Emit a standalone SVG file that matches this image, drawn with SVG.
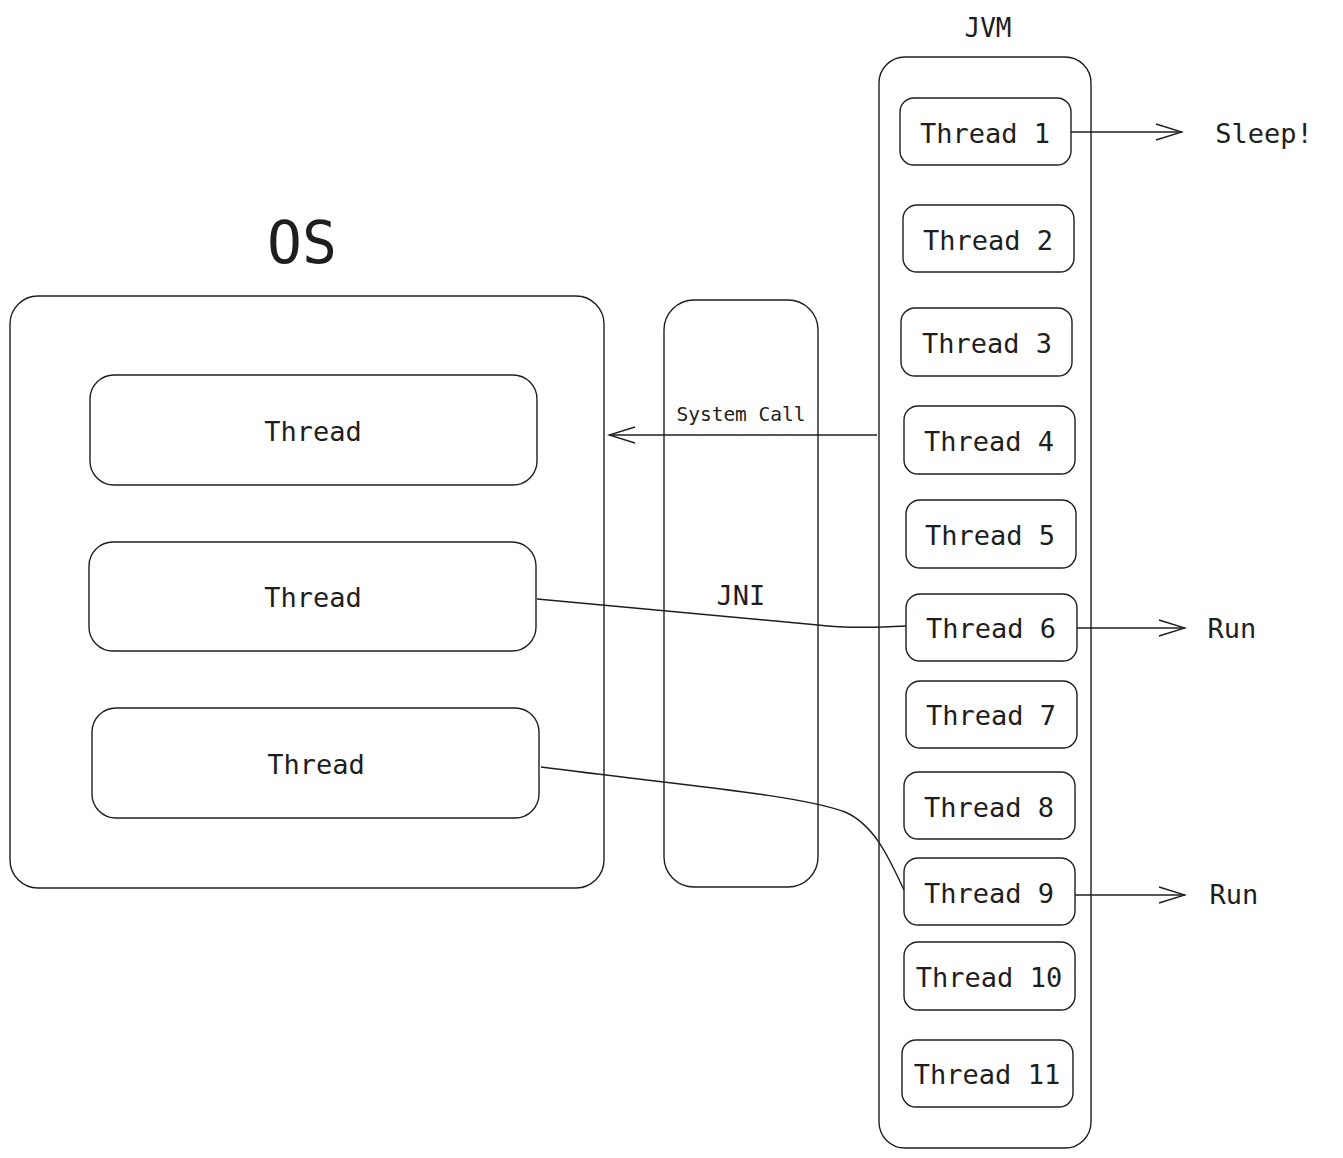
<svg xmlns="http://www.w3.org/2000/svg" width="1343" height="1158" viewBox="0 0 1343 1158">
<style>
.box{fill:none;stroke:#1e1e1e;stroke-width:1.4}
.t{font-family:"DejaVu Sans Mono","Liberation Mono",monospace;fill:#1e1e1e;text-anchor:middle;dominant-baseline:central}
.m{font-size:27px}
.c{fill:none;stroke:#1e1e1e;stroke-width:1.4}
</style>
<defs>
<marker id="ah" viewBox="0 0 30 20" refX="28" refY="10" markerWidth="30" markerHeight="20" markerUnits="userSpaceOnUse" orient="auto">
<path d="M2,2 L28,10 L2,18" fill="none" stroke="#1e1e1e" stroke-width="1.4"/>
</marker>
</defs>
<rect width="1343" height="1158" fill="#ffffff"/>
<text class="t" x="302" y="243" style="font-size:58px">OS</text>
<text class="t" x="988" y="28" style="font-size:26px">JVM</text>
<g id="os"><rect class="box" x="10" y="296" width="594" height="592" rx="28"/></g>
<g id="os-thread-1"><rect class="box" x="90" y="375" width="447" height="110" rx="24"/><text class="t m" x="313" y="431">Thread</text></g>
<g id="os-thread-2"><rect class="box" x="89" y="542" width="447" height="109" rx="24"/><text class="t m" x="313" y="597">Thread</text></g>
<g id="os-thread-3"><rect class="box" x="92" y="708" width="447" height="110" rx="24"/><text class="t m" x="316" y="764">Thread</text></g>
<g id="jni"><rect class="box" x="664" y="300" width="154" height="587" rx="30"/><text class="t m" x="741" y="595">JNI</text></g>
<g id="jvm"><rect class="box" x="879" y="57" width="212" height="1091" rx="26"/></g>
<g id="jt1"><rect class="box" x="900" y="98" width="171" height="67" rx="14"/><text class="t m" x="985" y="133">Thread 1</text></g>
<g id="jt2"><rect class="box" x="903" y="205" width="171" height="67" rx="14"/><text class="t m" x="988" y="240">Thread 2</text></g>
<g id="jt3"><rect class="box" x="901" y="308" width="171" height="68" rx="14"/><text class="t m" x="987" y="343">Thread 3</text></g>
<g id="jt4"><rect class="box" x="904" y="406" width="171" height="68" rx="14"/><text class="t m" x="989" y="441">Thread 4</text></g>
<g id="jt5"><rect class="box" x="906" y="500" width="170" height="68" rx="14"/><text class="t m" x="990" y="535">Thread 5</text></g>
<g id="jt6"><rect class="box" x="906" y="594" width="171" height="67" rx="14"/><text class="t m" x="991" y="628">Thread 6</text></g>
<g id="jt7"><rect class="box" x="906" y="681" width="171" height="67" rx="14"/><text class="t m" x="991" y="715">Thread 7</text></g>
<g id="jt8"><rect class="box" x="904" y="772" width="171" height="67" rx="14"/><text class="t m" x="989" y="807">Thread 8</text></g>
<g id="jt9"><rect class="box" x="904" y="858" width="171" height="67" rx="14"/><text class="t m" x="989" y="893">Thread 9</text></g>
<g id="jt10"><rect class="box" x="904" y="942" width="171" height="68" rx="14"/><text class="t m" x="989" y="977">Thread 10</text></g>
<g id="jt11"><rect class="box" x="902" y="1040" width="171" height="67" rx="14"/><text class="t m" x="987" y="1074">Thread 11</text></g>
<g id="connectors">
<path class="c" d="M1071,132 L1182,132" marker-end="url(#ah)"/>
<path class="c" d="M1077,628 L1185,628" marker-end="url(#ah)"/>
<path class="c" d="M1075,895 L1185,895" marker-end="url(#ah)"/>
<path class="c" d="M877,435 L609,435" marker-end="url(#ah)"/>
<path class="c" d="M537,599 L818,625 Q850,629 906,626"/>
<path class="c" d="M541,767 C680,785 800,795 845,812 C875,825 890,860 904,890"/>
<text class="t" x="741" y="414" style="font-size:19.5px">System Call</text>
</g>
<text class="t m" x="1264" y="133">Sleep!</text>
<text class="t m" x="1232" y="628">Run</text>
<text class="t m" x="1234" y="894">Run</text>
</svg>
